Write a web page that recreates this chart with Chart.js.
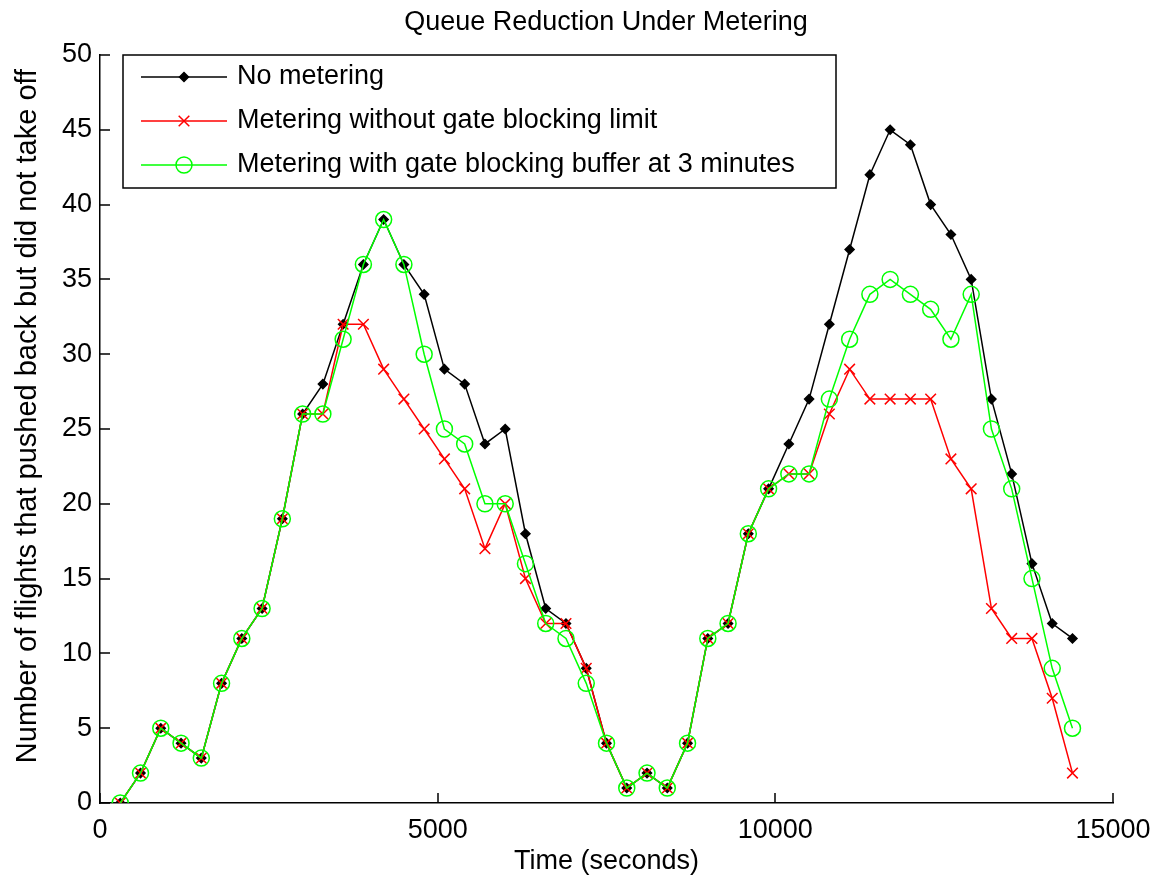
<!DOCTYPE html>
<html lang="en">

<head>
    <meta charset="UTF-8">
    <title>Queue Reduction Under Metering</title>
    <style>
        html, body {
            margin: 0;
            padding: 0;
            background: #ffffff;
        }

        canvas {
            display: block;
        }
    </style>
</head>

<body>
    <canvas id="queueChart" width="1153" height="881"></canvas>

    <script src="https://cdn.jsdelivr.net/npm/chart.js"></script>
    <script>
        // Time in seconds (one sample every 300 s)
        const times = [300, 600, 900, 1200, 1500, 1800, 2100, 2400, 2700, 3000, 3300, 3600,
            3900, 4200, 4500, 4800, 5100, 5400, 5700, 6000, 6300, 6600, 6900, 7200,
            7500, 7800, 8100, 8400, 8700, 9000, 9300, 9600, 9900, 10200, 10500, 10800,
            11100, 11400, 11700, 12000, 12300, 12600, 12900, 13200, 13500, 13800, 14100, 14400];

        const noMetering = [0, 2, 5, 4, 3, 8, 11, 13, 19, 26, 28, 32,
            36, 39, 36, 34, 29, 28, 24, 25, 18, 13, 12, 9,
            4, 1, 2, 1, 4, 11, 12, 18, 21, 24, 27, 32,
            37, 42, 45, 44, 40, 38, 35, 27, 22, 16, 12, 11];

        const meteringNoLimit = [0, 2, 5, 4, 3, 8, 11, 13, 19, 26, 26, 32,
            32, 29, 27, 25, 23, 21, 17, 20, 15, 12, 12, 9,
            4, 1, 2, 1, 4, 11, 12, 18, 21, 22, 22, 26,
            29, 27, 27, 27, 27, 23, 21, 13, 11, 11, 7, 2];

        const meteringBuffer = [0, 2, 5, 4, 3, 8, 11, 13, 19, 26, 26, 31,
            36, 39, 36, 30, 25, 24, 20, 20, 16, 12, 11, 8,
            4, 1, 2, 1, 4, 11, 12, 18, 21, 22, 22, 27,
            31, 34, 35, 34, 33, 31, 34, 25, 21, 15, 9, 5];

        const seriesLabels = ['No metering', 'Metering without gate blocking limit',
            'Metering with gate blocking buffer at 3 minutes'];
        const xTicks = [0, 5000, 10000, 15000];
        const yTicks = [0, 5, 10, 15, 20, 25, 30, 35, 40, 45, 50];

        const toPoints = (values) => values.map((v, i) => ({ x: times[i], y: v }));

        const FONT = "'Liberation Sans', Arial, sans-serif";

        // Title, y label, inward ticks and legend box, MATLAB style
        const matlabLook = {
            id: 'matlabLook',
            afterDraw(chart) {
                const ctx = chart.ctx;
                const area = chart.chartArea;
                const xs = chart.scales.x;
                const ys = chart.scales.y;

                ctx.save();
                // inward ticks
                ctx.strokeStyle = '#000000';
                ctx.lineWidth = 1.5;
                ctx.beginPath();
                yTicks.forEach(t => {
                    const py = Math.round(ys.getPixelForValue(t));
                    ctx.moveTo(area.left, py);
                    ctx.lineTo(area.left + 10, py);
                });
                xTicks.forEach(t => {
                    const px = Math.round(xs.getPixelForValue(t));
                    ctx.moveTo(px, area.bottom);
                    ctx.lineTo(px, area.bottom - 10);
                });
                ctx.stroke();

                // title
                ctx.fillStyle = '#000000';
                ctx.font = '27px ' + FONT;
                ctx.textAlign = 'center';
                ctx.textBaseline = 'middle';
                ctx.fillText('Queue Reduction Under Metering', 606, 23);

                // y axis label
                ctx.save();
                ctx.translate(28, 416);
                ctx.rotate(-Math.PI / 2);
                ctx.font = '29px ' + FONT;
                ctx.fillText('Number of flights that pushed back but did not take off', 0, 0);
                ctx.restore();

                // legend
                const box = { left: 123, top: 55, right: 836, bottom: 188 };
                ctx.fillStyle = '#ffffff';
                ctx.fillRect(box.left, box.top, box.right - box.left, box.bottom - box.top);
                ctx.strokeStyle = '#000000';
                ctx.lineWidth = 1.5;
                ctx.strokeRect(box.left, box.top, box.right - box.left, box.bottom - box.top);

                const rows = [77, 121, 165];
                chart.data.datasets.forEach((ds, i) => {
                    const y = rows[i];
                    ctx.strokeStyle = ds.borderColor;
                    ctx.lineWidth = 1.5;
                    ctx.beginPath();
                    ctx.moveTo(141, y);
                    ctx.lineTo(227, y);
                    ctx.stroke();
                    ctx.fillStyle = ds.pointBackgroundColor;
                    ctx.strokeStyle = ds.borderColor;
                    Chart.helpers.drawPoint(ctx, {
                        pointStyle: ds.pointStyle,
                        radius: ds.pointRadius,
                        rotation: 0,
                        borderWidth: 1.5
                    }, 184, y);
                    ctx.fillStyle = '#000000';
                    ctx.font = '27px ' + FONT;
                    ctx.textAlign = 'left';
                    ctx.textBaseline = 'middle';
                    ctx.fillText(ds.label, 237, y);
                });
                ctx.restore();
            }
        };

        const ctx = document.getElementById('queueChart').getContext('2d');
        const chart = new Chart(ctx, {
            type: 'line',
            data: {
                datasets: [{
                    label: seriesLabels[0],
                    data: toPoints(noMetering),
                    borderColor: '#000000',
                    backgroundColor: '#000000',
                    pointBackgroundColor: '#000000',
                    pointStyle: 'rectRot',
                    pointRadius: 4.5,
                    borderWidth: 1.5,
                    order: 3
                }, {
                    label: seriesLabels[1],
                    data: toPoints(meteringNoLimit),
                    borderColor: '#ff0000',
                    backgroundColor: '#ff0000',
                    pointBackgroundColor: '#ff0000',
                    pointStyle: 'crossRot',
                    pointRadius: 7.5,
                    borderWidth: 1.5,
                    order: 2
                }, {
                    label: seriesLabels[2],
                    data: toPoints(meteringBuffer),
                    borderColor: '#00ff00',
                    backgroundColor: 'rgba(0,0,0,0)',
                    pointBackgroundColor: 'rgba(0,0,0,0)',
                    pointStyle: 'circle',
                    pointRadius: 8,
                    borderWidth: 1.5,
                    order: 1
                }]
            },
            options: {
                responsive: false,
                animation: false,
                layout: {
                    padding: { top: 55, right: 40, left: 0, bottom: 0 }
                },
                elements: {
                    line: { tension: 0 }
                },
                plugins: {
                    legend: { display: false },
                    title: { display: false },
                    tooltip: { enabled: false }
                },
                scales: {
                    x: {
                        type: 'linear',
                        min: 0,
                        max: 15000,
                        afterFit: (scale) => {
                            scale.height = 78;
                            scale.paddingLeft = 0;
                            scale.paddingRight = 0;
                        },
                        afterBuildTicks: (scale) => { scale.ticks = xTicks.map(v => ({ value: v })); },
                        grid: { display: false, drawTicks: false },
                        border: { display: true, color: '#000000', width: 1.5 },
                        ticks: {
                            padding: 11,
                            color: '#000000',
                            maxRotation: 0,
                            callback: (v) => String(v),
                            font: { family: FONT, size: 27 }
                        },
                        title: {
                            display: true,
                            text: 'Time (seconds)',
                            color: '#000000',
                            padding: { top: 0, bottom: 3 },
                            font: { family: FONT, size: 27 }
                        }
                    },
                    y: {
                        min: 0,
                        max: 50,
                        afterFit: (scale) => {
                            scale.width = 100;
                            scale.paddingTop = 0;
                            scale.paddingBottom = 0;
                        },
                        afterBuildTicks: (scale) => { scale.ticks = yTicks.map(v => ({ value: v })); },
                        grid: { display: false, drawTicks: false },
                        border: { display: true, color: '#000000', width: 1.5 },
                        ticks: {
                            padding: 8,
                            color: '#000000',
                            font: { family: FONT, size: 27 }
                        },
                        title: { display: false }
                    }
                }
            },
            plugins: [matlabLook]
        });
    </script>
</body>

</html>
